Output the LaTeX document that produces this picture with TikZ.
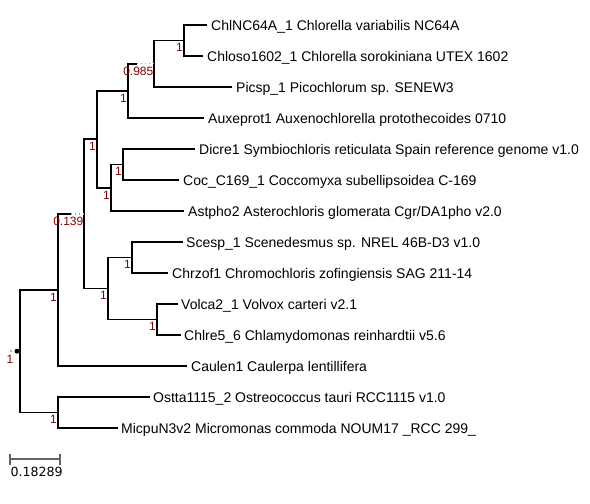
\documentclass[tikz,border=0pt]{standalone}
\usepackage{fontspec}
\setmainfont{Liberation Sans}
\newfontfamily\dejavu{DejaVu Sans}
\usetikzlibrary{calc}
\definecolor{suppred}{RGB}{140,0,0}
\definecolor{scalegray}{RGB}{100,100,100}
\tikzset{
  branch/.style={draw=black, line width=1.9pt},
  faint/.style={draw=gray!70, line width=1.4pt, dash pattern=on 1.4pt off 2.6pt},
  leaf/.style={anchor=base west, inner sep=0pt, font=\fontsize{14}{16}\selectfont},
  supp/.style={anchor=north east, inner sep=0pt, text=suppred, font=\fontsize{12}{13}\selectfont},
  scalebar/.style={draw=scalegray, line width=1.6pt},
}
\begin{document}
\begin{tikzpicture}[x=1pt, y=-1pt]
\fill[white] (0,0) rectangle (590,504);
\useasboundingbox (0,0) rectangle (590,504);

% leaf tips
\coordinate (t1) at (207,25);
\coordinate (t2) at (203,56);
\coordinate (t3) at (232,87);
\coordinate (t4) at (204,118);
\coordinate (t5) at (195,149);
\coordinate (t6) at (179,180);
\coordinate (t7) at (184,211);
\coordinate (t8) at (183,242);
\coordinate (t9) at (168,273);
\coordinate (t10) at (178,304);
\coordinate (t11) at (181,335);
\coordinate (t12) at (187,366);
\coordinate (t13) at (150,397);
\coordinate (t14) at (118,428);

% internal nodes
\coordinate (A) at (184,40.5);
\coordinate (B) at (154,63.75);
\coordinate (C) at (128,90.9);
\coordinate (D) at (123,164.5);
\coordinate (E) at (111,187.75);
\coordinate (F) at (97,139.3);
\coordinate (G) at (132,257.5);
\coordinate (H) at (157,319.5);
\coordinate (I) at (108,288.5);
\coordinate (J) at (84,213.9);
\coordinate (K) at (58,290);
\coordinate (L) at (58,412.5);
\coordinate (R) at (20,351.2);
\coordinate (Bs) at (137,63.75);
\coordinate (Js) at (71,213.9);

% leaf labels
\node[leaf] (n1) at ($(t1)+(4,5.3)$) {ChlNC64A\_1 Chlorella variabilis NC64A};
\node[leaf] (n2) at ($(t2)+(4,5.3)$) {Chloso1602\_1 Chlorella sorokiniana UTEX 1602};
\node[leaf] (n3) at ($(t3)+(4,5.3)$) {Picsp\_1 Picochlorum sp. SENEW3};
\node[leaf] (n4) at ($(t4)+(4,5.3)$) {Auxeprot1 Auxenochlorella protothecoides 0710};
\node[leaf] (n5) at ($(t5)+(4,5.3)$) {Dicre1 Symbiochloris reticulata Spain reference genome v1.0};
\node[leaf] (n6) at ($(t6)+(4,5.3)$) {Coc\_C169\_1 Coccomyxa subellipsoidea C-169};
\node[leaf] (n7) at ($(t7)+(4,5.3)$) {Astpho2 Asterochloris glomerata Cgr/DA1pho v2.0};
\node[leaf] (n8) at ($(t8)+(3,5.3)$) {Scesp\_1 Scenedesmus sp. NREL 46B-D3 v1.0};
\node[leaf] (n9) at ($(t9)+(4,5.3)$) {Chrzof1 Chromochloris zofingiensis SAG 211-14};
\node[leaf] (n10) at ($(t10)+(3,5.3)$) {Volca2\_1 Volvox carteri v2.1};
\node[leaf] (n11) at ($(t11)+(3,5.3)$) {Chlre5\_6 Chlamydomonas reinhardtii v5.6};
\node[leaf] (n12) at ($(t12)+(4,5.3)$) {Caulen1 Caulerpa lentillifera};
\node[leaf] (n13) at ($(t13)+(3,5.3)$) {Ostta1115\_2 Ostreococcus tauri RCC1115 v1.0};
\node[leaf] (n14) at ($(t14)+(3,5.3)$) {MicpuN3v2 Micromonas commoda NOUM17 \_RCC 299\_};

% branches
\draw[branch] (A) |- (t1);
\draw[branch] (A) |- (t2);
\draw[branch] (B) |- (A);
\draw[branch] (B) |- (t3);
\draw[branch] (C) |- (Bs);
\draw[faint] (Bs) -- (B);
\draw[branch] (C) |- (t4);
\draw[branch] (D) |- (t5);
\draw[branch] (D) |- (t6);
\draw[branch] (E) |- (D);
\draw[branch] (E) |- (t7);
\draw[branch] (F) |- (C);
\draw[branch] (F) |- (E);
\draw[branch] (G) |- (t8);
\draw[branch] (G) |- (t9);
\draw[branch] (H) |- (t10);
\draw[branch] (H) |- (t11);
\draw[branch] (I) |- (G);
\draw[branch] (I) |- (H);
\draw[branch] (J) |- (F);
\draw[branch] (J) |- (I);
\draw[branch] (K) |- (Js);
\draw[faint] (Js) -- (J);
\draw[branch] (K) |- (t12);
\draw[branch] (L) |- (t13);
\draw[branch] (L) |- (t14);
\draw[branch] (R) |- (K);
\draw[branch] (R) |- (L);

% root marks
\fill[black] ($(R)+(-3,0)$) circle (2.5pt);
\fill[gray!60] ($(R)+(-10,-1)$) rectangle ($(R)+(-8,1)$);

% support values
\node[supp] (sA) at ($(A)+(-1,3)$) {1};
\node[supp] (sB) at ($(B)+(-0.5,3)$) {0.985};
\node[supp] (sC) at ($(C)+(-1,3)$) {1};
\node[supp] (sD) at ($(D)+(-1,3)$) {1};
\node[supp] (sE) at ($(E)+(-1,3)$) {1};
\node[supp] (sF) at ($(F)+(-1,3)$) {1};
\node[supp] (sG) at ($(G)+(-1,3)$) {1};
\node[supp] (sH) at ($(H)+(-1,3)$) {1};
\node[supp] (sI) at ($(I)+(-1,3)$) {1};
\node[supp] (sJ) at ($(J)+(-0.5,3)$) {0.139};
\node[supp] (sK) at ($(K)+(-1,3)$) {1};
\node[supp] (sL) at ($(L)+(-1,3)$) {1};
\node[supp] (sR) at ($(R)+(-6.5,4)$) {1};

% scale bar
\coordinate (s0) at (10,459);
\coordinate (s1) at (60,459);
\draw[scalebar] (s0) -- (s1);
\draw[scalebar] ($(s0)+(0,-5.5)$) -- ($(s0)+(0,5.5)$);
\draw[scalebar] ($(s1)+(0,-5.5)$) -- ($(s1)+(0,5.5)$);
\node[anchor=base west, inner sep=0pt, font=\dejavu\fontsize{12.6}{14}\selectfont] (sl) at (10.3,476) {0.18289};
\end{tikzpicture}
\end{document}
